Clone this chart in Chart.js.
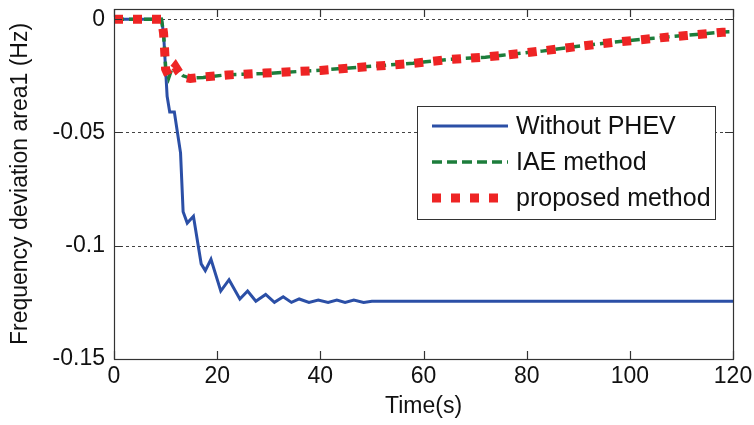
<!DOCTYPE html>
<html>
<head>
<meta charset="utf-8">
<script src="https://cdn.jsdelivr.net/npm/chart.js@4.4.1/dist/chart.umd.min.js"></script>
<style>
  html, body { margin: 0; padding: 0; background: #fff; }
  #wrap { width: 754px; height: 425px; }
</style>
</head>
<body>
<div id="wrap"><canvas id="c" width="754" height="425"></canvas></div>
<script>
// ---- data ----
const timeWithout = [0, 9.2, 9.6, 10.0, 10.3, 10.8, 11.7, 12.1, 12.9, 13.4, 14.2, 15.4, 16.9, 17.7, 18.8, 20.7, 22.3, 24.4, 25.9, 27.5, 29.4, 31.1, 32.8, 34.4, 35.9, 37.8, 39.6, 41.5, 43.2, 44.8, 46.5, 48.4, 50, 120];
const freqWithout = [0, 0, -0.006, -0.022, -0.034, -0.041, -0.041, -0.047, -0.059, -0.085, -0.090, -0.087, -0.108, -0.111, -0.106, -0.120, -0.115, -0.1235, -0.120, -0.1245, -0.1215, -0.125, -0.1225, -0.125, -0.1235, -0.125, -0.124, -0.125, -0.124, -0.125, -0.124, -0.125, -0.1245, -0.1245];

const timeIAE = [0, 9.2, 9.6, 9.8, 10.0, 10.6, 11.2, 11.9, 12.6, 13.4, 14.8, 17.3, 22, 29.2, 40, 50.3, 58, 65, 72, 75.3, 83, 90, 97, 104.6, 111, 118, 120];
const freqIAE = [0, 0, -0.006, -0.013, -0.021, -0.026, -0.022, -0.020, -0.023, -0.025, -0.026, -0.0257, -0.0245, -0.024, -0.0225, -0.0207, -0.0194, -0.0177, -0.0168, -0.0159, -0.0141, -0.0119, -0.0101, -0.0084, -0.0071, -0.0057, -0.0055];

const timeProposed = [0, 9.2, 9.6, 9.8, 10.0, 10.6, 11.2, 11.9, 12.6, 13.4, 14.8, 17.3, 22, 29.2, 40, 50.3, 58, 65, 72, 75.3, 83, 90, 97, 104.6, 111, 118, 120];
const freqProposed = [0, 0, -0.006, -0.013, -0.022, -0.025, -0.023, -0.021, -0.0235, -0.0255, -0.0262, -0.0255, -0.0246, -0.0238, -0.0226, -0.0208, -0.0195, -0.0178, -0.0167, -0.016, -0.014, -0.012, -0.0102, -0.0085, -0.0072, -0.0058, -0.0056];

const xTickValues = [0, 20, 40, 60, 80, 100, 120];
const yTickValues = [0, -0.05, -0.1, -0.15];
const yTickLabels = ['0', '-0.05', '-0.1', '-0.15'];
const seriesNames = ['Without PHEV', 'IAE method', 'proposed method'];
const xTitle = 'Time(s)';
const yTitle = 'Frequency deviation area1 (Hz)';

function pts(t, v) { return t.map((x, i) => ({ x: x, y: v[i] })); }

const FONT = '"Liberation Sans", Arial, sans-serif';
const COLORS = { blue: '#2b4fa6', green: '#1d7d3b', red: '#ee2424' };

const framePlugin = {
  id: 'framePlugin',
  beforeDatasetsDraw(chart) {
    const { ctx, chartArea: a, scales } = chart;
    const ys = scales.y;
    ctx.save();
    ctx.strokeStyle = '#444';
    ctx.lineWidth = 1;
    ctx.setLineDash([3, 3]);
    yTickValues.forEach(v => {
      if (v === -0.15) return;
      const py = Math.round(ys.getPixelForValue(v)) + 0.5;
      ctx.beginPath();
      ctx.moveTo(a.left, py);
      ctx.lineTo(a.right, py);
      ctx.stroke();
    });
    ctx.restore();
  },
  afterDatasetsDraw(chart) {
    const { ctx, chartArea: a, scales } = chart;
    const xs = scales.x, ys = scales.y;
    ctx.save();
    ctx.setLineDash([]);
    // frame
    ctx.strokeStyle = '#333';
    ctx.lineWidth = 1.2;
    ctx.strokeRect(Math.round(a.left) + 0.5, Math.round(a.top) + 0.5,
                   Math.round(a.right - a.left), Math.round(a.bottom - a.top));
    // inward ticks
    const tl = 8;
    xTickValues.forEach(v => {
      const px = Math.round(xs.getPixelForValue(v)) + 0.5;
      ctx.beginPath();
      ctx.moveTo(px, a.bottom); ctx.lineTo(px, a.bottom - tl);
      ctx.moveTo(px, a.top); ctx.lineTo(px, a.top + tl);
      ctx.stroke();
    });
    yTickValues.forEach(v => {
      const py = Math.round(ys.getPixelForValue(v)) + 0.5;
      ctx.beginPath();
      ctx.moveTo(a.left, py); ctx.lineTo(a.left + tl, py);
      ctx.moveTo(a.right, py); ctx.lineTo(a.right - tl, py);
      ctx.stroke();
    });
    // legend
    const bx = 417, by = 106, bw = 298, bh = 113;
    ctx.fillStyle = '#fff';
    ctx.fillRect(bx, by, bw, bh);
    ctx.strokeStyle = '#333';
    ctx.lineWidth = 1;
    ctx.strokeRect(bx + 0.5, by + 0.5, bw, bh);
    const rowsY = [126, 162, 198];
    chart.data.datasets.forEach((ds, i) => {
      const y = rowsY[i];
      ctx.save();
      ctx.strokeStyle = ds.borderColor;
      ctx.lineWidth = ds.borderWidth;
      ctx.lineCap = 'butt';
      ctx.setLineDash(ds.borderDash || []);
      ctx.beginPath();
      ctx.moveTo(432, y);
      ctx.lineTo(508, y);
      ctx.stroke();
      ctx.restore();
      ctx.fillStyle = '#111';
      ctx.font = '25px ' + FONT;
      ctx.textBaseline = 'middle';
      ctx.textAlign = 'left';
      ctx.fillText(ds.label, 516, y + 1);
    });
    ctx.restore();
  }
};

new Chart(document.getElementById('c'), {
  type: 'line',
  data: {
    datasets: [
      { label: seriesNames[0], data: pts(timeWithout, freqWithout), borderColor: COLORS.blue,
        borderWidth: 3, pointRadius: 0, tension: 0, order: 3, fill: false },
      { label: seriesNames[1], data: pts(timeIAE, freqIAE), borderColor: COLORS.green,
        borderWidth: 3.5, borderDash: [10, 5], pointRadius: 0, tension: 0, order: 2, fill: false },
      { label: seriesNames[2], data: pts(timeProposed, freqProposed), borderColor: COLORS.red,
        borderWidth: 9, borderDash: [9, 10], borderCapStyle: 'butt', pointRadius: 0, tension: 0, order: 1, fill: false }
    ]
  },
  options: {
    responsive: false,
    animation: false,
    devicePixelRatio: 1,
    layout: { padding: { top: 9, right: 21, left: 0, bottom: 0 } },
    plugins: { legend: { display: false }, tooltip: { enabled: false } },
    scales: {
      x: {
        type: 'linear', min: 0, max: 120,
        afterBuildTicks(s) { s.ticks = xTickValues.map(v => ({ value: v })); },
        afterFit(s) { s.height = 66; s.paddingLeft = 0; s.paddingRight = 0; },
        grid: { display: false, drawTicks: false },
        border: { display: false },
        ticks: { padding: 4, color: '#111', font: { family: FONT, size: 23 }, maxRotation: 0,
                 callback: v => String(v) },
        title: { display: true, text: xTitle, color: '#111', font: { family: FONT, size: 23 },
                 padding: { top: 0, bottom: 5 } }
      },
      y: {
        type: 'linear', min: -0.15, max: 0.0045,
        afterBuildTicks(s) { s.ticks = yTickValues.map(v => ({ value: v })); },
        afterFit(s) { s.width = 114; s.paddingTop = 0; s.paddingBottom = 0; },
        grid: { display: false, drawTicks: false },
        border: { display: false },
        ticks: { padding: 9, color: '#111', font: { family: FONT, size: 23 },
                 callback: (v) => { const i = yTickValues.findIndex(t => Math.abs(t - v) < 1e-9); return i >= 0 ? yTickLabels[i] : ''; } },
        title: { display: true, text: yTitle, color: '#111', font: { family: FONT, size: 23 },
                 padding: { top: 7, bottom: 0 } }
      }
    }
  },
  plugins: [framePlugin]
});
</script>
</body>
</html>
